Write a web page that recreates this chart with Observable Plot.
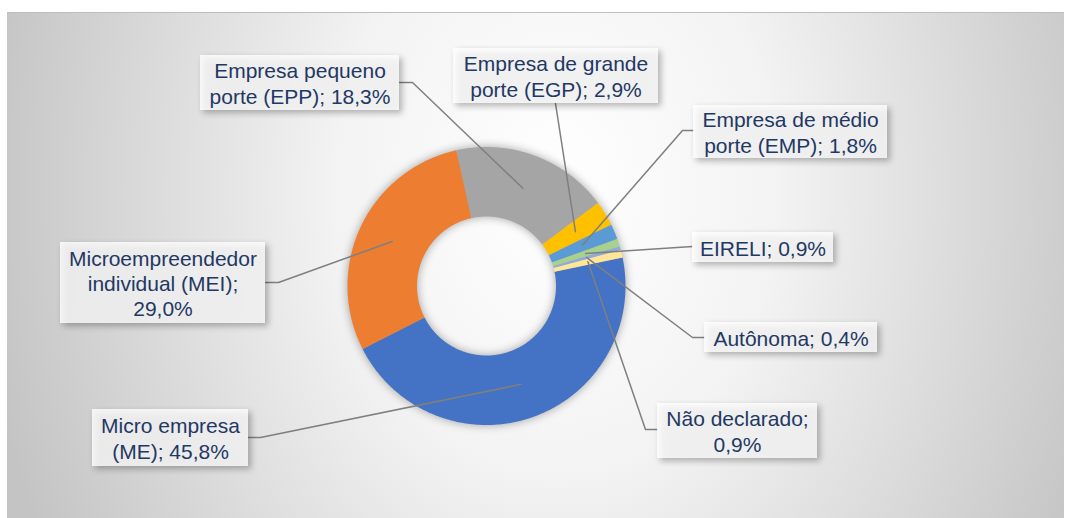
<!DOCTYPE html>
<html><head><meta charset="utf-8">
<script src="https://cdn.jsdelivr.net/npm/d3@7"></script>
<script src="https://cdn.jsdelivr.net/npm/@observablehq/plot@0.6"></script>
<style>
html,body{margin:0;padding:0;background:#fff;width:1065px;height:518px;overflow:hidden;}
#bg{position:absolute;left:7px;top:12px;width:1057px;height:506px;box-sizing:border-box;border-top:1px solid #BDBDBD;
 background:radial-gradient(ellipse 55% 150% at 52% 35%, #FFFFFF 0%, #F3F3F3 38%, #C4C4C4 100%);}
#chart{position:absolute;left:0;top:0;}
</style></head><body><div id="bg"></div><div id="chart"></div>
<script>
// ---- data ----
const categories = ["Micro empresa (ME)", "Microempreendedor individual (MEI)", "Empresa pequeno porte (EPP)", "Empresa de grande porte (EGP)", "Empresa de médio porte (EMP)", "EIRELI", "Autônoma", "Não declarado"];
const values = [45.8, 29.0, 18.3, 2.9, 1.8, 0.9, 0.4, 0.9];
const colors = ["#4472C4", "#ED7D31", "#A5A5A5", "#FFC000", "#5B9BD5", "#A9D18E", "#8FAADC", "#FFE699"];
// words per label line
const lineWords = [[2,2],[1,2,1],[2,3],[3,3],[3,3],[2],[2],[2,1]];

// ---- layout ----
const W = 1065, H = 518;
const cx = 486, cy = 285.5, R = 139, R0 = 69.5, startDeg = 78.2;
const boxes = [
  {x1:92,  x2:248, y1:409, y2:466, path:[[248,437],[260,437]]},
  {x1:60,  x2:265, y1:242, y2:323, path:[[265,282],[278,282]]},
  {x1:200, x2:399, y1:55,  y2:110, path:[[399,82],[412,82]]},
  {x1:453, x2:658, y1:48,  y2:103, path:[[555,103]]},
  {x1:693, x2:887, y1:105, y2:158, path:[[693,130],[682,130]]},
  {x1:692, x2:833, y1:232, y2:262, path:[[692,246]]},
  {x1:704, x2:877, y1:322, y2:352, path:[[704,337],[692,337]]},
  {x1:657, x2:817, y1:403, y2:458, path:[[657,429],[645,429]]}
];

const fmt = v => v.toFixed(1).replace(".", ",") + "%";
function wrap(text, counts) {
  const w = text.split(" "); const out = []; let k = 0;
  counts.forEach(c => { out.push(w.slice(k, k + c).join(" ")); k += c; });
  return out.join("\n");
}

const a0 = startDeg * Math.PI / 180;
const arcs = d3.pie().sort(null).value(d => d).startAngle(a0).endAngle(a0 + 2 * Math.PI)(values);
const pt = (ang, rad) => [cx + rad * Math.sin(ang), cy - rad * Math.cos(ang)];

const poly = [];
arcs.forEach((a, i) => {
  const n = Math.max(2, Math.ceil((a.endAngle - a.startAngle) / (Math.PI / 360)));
  for (let k = 0; k <= n; k++) { const [x, y] = pt(a.startAngle + (a.endAngle - a.startAngle) * k / n, R); poly.push({name: categories[i], x, y}); }
  for (let k = n; k >= 0; k--) { const [x, y] = pt(a.startAngle + (a.endAngle - a.startAngle) * k / n, R0); poly.push({name: categories[i], x, y}); }
});

const leaders = [];
arcs.forEach((a, i) => {
  const [ax, ay] = pt((a.startAngle + a.endAngle) / 2, (R + R0) / 2);
  boxes[i].path.forEach(([x, y]) => leaders.push({name: categories[i], x, y}));
  leaders.push({name: categories[i], x: ax, y: ay});
});

const labels = boxes.map((b, i) => ({...b, label: wrap(`${categories[i]}; ${fmt(values[i])}`, lineWords[i])}));

const chart = Plot.plot({
  width: W, height: H, margin: 0,
  style: "background: transparent; overflow: visible;",
  x: {domain: [0, W], range: [0, W], axis: null},
  y: {domain: [0, H], range: [0, H], axis: null},
  color: {domain: categories, range: colors},
  marks: [
    Plot.line(poly, {x: "x", y: "y", z: "name", fill: "name", stroke: "none", curve: "linear-closed"}),
    Plot.line(leaders, {x: "x", y: "y", z: "name", stroke: "#7F7F7F", strokeWidth: 1.5}),
    Plot.rect(labels, {x1: "x1", x2: "x2", y1: "y1", y2: "y2", fill: "#FFFFFF", fillOpacity: 0.8}),
    Plot.text(labels, {x: d => (d.x1 + d.x2) / 2, y: d => (d.y1 + d.y2) / 2, text: "label",
      fontSize: 21, fill: "#1F3864", lineHeight: 1.2, lineAnchor: "middle", textAnchor: "middle",
      fontFamily: "'Liberation Sans', Arial, sans-serif"})
  ]
});
document.getElementById("chart").appendChild(chart);
const lines = chart.querySelectorAll('g[aria-label="line"]');
if (lines[0]) lines[0].style.filter = "drop-shadow(0px 0px 5px rgba(0,0,0,0.35))";
const rects = chart.querySelector('g[aria-label="rect"]');
if (rects) rects.style.filter = "drop-shadow(3px 3px 3px rgba(0,0,0,0.35))";
</script>
</body></html>
